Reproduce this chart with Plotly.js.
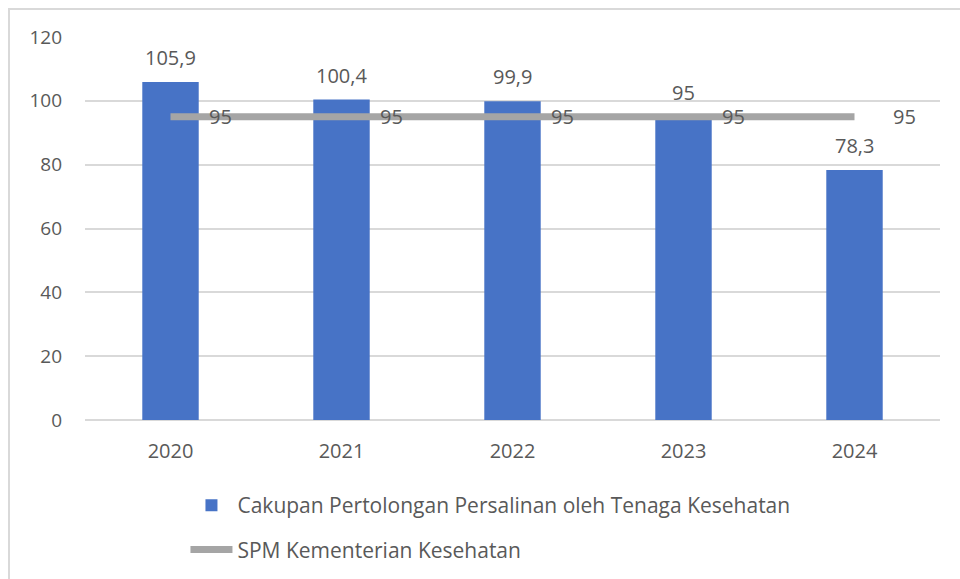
<!DOCTYPE html>
<html>
<head>
<meta charset="utf-8">
<script src="https://cdn.plot.ly/plotly-3.0.1.min.js"></script>
<style>
  html, body { margin: 0; padding: 0; background: #ffffff; }
  #chart { width: 960px; height: 579px; position: relative; }
  #frame { position: absolute; left: 8px; top: 8px; width: 952px; height: 571px;
           border-left: 2px solid #d9d9d9; border-top: 2px solid #d9d9d9; pointer-events: none; }
</style>
</head>
<body>
<div id="chart"></div>
<div id="frame"></div>
<script>
const years = ['2020', '2021', '2022', '2023', '2024'];
const cakupan = [105.9, 100.4, 99.9, 95, 78.3];
const spm = [95, 95, 95, 95, 95];
const barName = 'Cakupan Pertolongan Persalinan oleh Tenaga Kesehatan';
const lineName = 'SPM Kementerian Kesehatan';
const yTicks = [0, 20, 40, 60, 80, 100, 120];

const fmt = v => String(v).replace('.', ',');
const FONT = 'Open Sans, Noto Sans, sans-serif';
const TXT = '#595959';

const traces = [
  {
    type: 'bar', x: years, y: cakupan, name: barName,
    marker: { color: '#4773c6', line: { width: 0 } },
    width: 0.33, legendgroup: 'a', hoverinfo: 'skip'
  },
  {
    type: 'scatter', mode: 'lines', x: years, y: spm, name: lineName,
    line: { color: '#a5a5a5', width: 7 }, legendgroup: 'b', hoverinfo: 'skip'
  }
];

const annotations = [];
years.forEach((yr, i) => {
  annotations.push({
    x: i, y: cakupan[i], xref: 'x', yref: 'y', text: fmt(cakupan[i]),
    showarrow: false, yanchor: 'bottom', yshift: 9,
    font: { family: FONT, size: 20, color: TXT }
  });
  annotations.push({
    x: i, y: spm[i], xref: 'x', yref: 'y', text: fmt(spm[i]),
    showarrow: false, xanchor: 'left', xshift: 36, yanchor: 'middle',
    font: { family: FONT, size: 20, color: TXT }
  });
});

const layout = {
  width: 960, height: 579,
  margin: { l: 85, r: 20, t: 37, b: 159, autoexpand: false },
  paper_bgcolor: '#ffffff', plot_bgcolor: '#ffffff',
  font: { family: FONT, size: 19, color: TXT },
  xaxis: {
    type: 'category', categoryorder: 'array', categoryarray: years,
    showgrid: false, zeroline: false, showline: false, automargin: false,
    ticks: '', ticklabelstandoff: 17, tickfont: { family: FONT, size: 20, color: TXT }
  },
  yaxis: {
    range: [0, 120], tickvals: yTicks, ticktext: yTicks.map(String),
    showgrid: true, gridcolor: '#d9d9d9', gridwidth: 2,
    zeroline: true, zerolinecolor: '#d9d9d9', zerolinewidth: 2,
    showline: false, ticks: '', ticklabelstandoff: 22, automargin: false,
    tickfont: { family: FONT, size: 19, color: TXT }
  },
  showlegend: true,
  legend: {
    orientation: 'v', x: 0.1175, xanchor: 'left', y: -0.17, yanchor: 'top',
    font: { family: FONT, size: 21, color: TXT },
    itemwidth: 42, tracegroupgap: 14, traceorder: 'grouped'
  },
  annotations: annotations
};

Plotly.newPlot('chart', traces, layout, { displayModeBar: false, staticPlot: true });
</script>
</body>
</html>
